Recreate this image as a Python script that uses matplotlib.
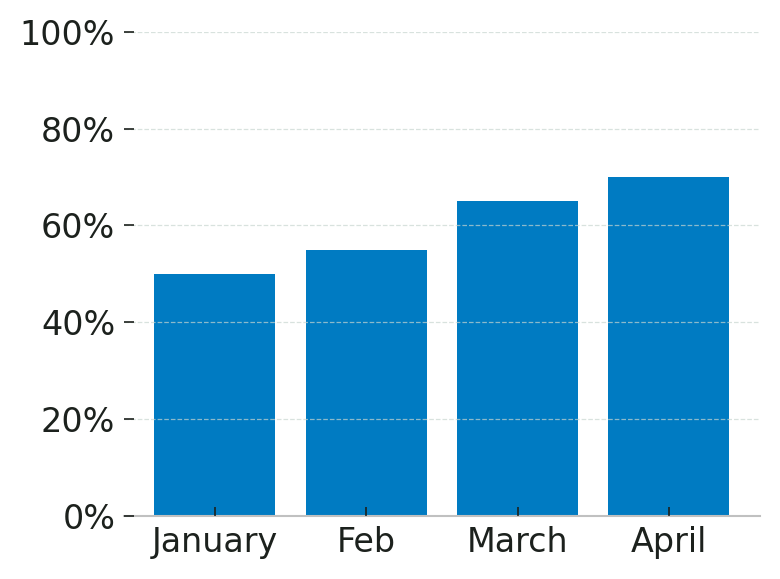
import numpy as np
import matplotlib
matplotlib.use('Agg')
import matplotlib.pyplot as plt
from matplotlib.ticker import PercentFormatter

months = ['January', 'Feb', 'March', 'April']
shares = [0.50, 0.55, 0.65, 0.70]

txt = '#1c211d'
plt.rcParams['font.family'] = 'DejaVu Sans'
plt.rcParams['font.size'] = 16

fig = plt.figure(figsize=(5.2, 3.86), dpi=150)
ax = fig.add_axes([0.159, 0.109, 0.815, 0.836])

x = np.arange(len(months))
ax.bar(x, shares, width=0.8, color='#007bc2', zorder=1)

ax.set_xlim(-0.6, 3.6)
ax.set_ylim(0, 1.0)
ax.set_yticks(np.arange(0, 1.01, 0.2))
ax.yaxis.set_major_formatter(PercentFormatter(1.0, decimals=0))
ax.set_xticks(x)
ax.set_xticklabels(months)

ax.set_axisbelow(False)
ax.yaxis.grid(True, linestyle='--', color='#c8d6d0', alpha=0.7, linewidth=0.6, zorder=2)

for s in ['left', 'top', 'right']:
    ax.spines[s].set_visible(False)
ax.spines['bottom'].set_color('#c0c0c0')
ax.spines['bottom'].set_linewidth(1.0)

ax.tick_params(axis='y', direction='in', length=4.8, width=0.8, color=txt, labelcolor=txt, pad=4.2)
ax.tick_params(axis='x', direction='in', length=4.5, width=0.8, color=txt, labelcolor=txt, pad=5)

fig.savefig('out.png', dpi=150)
